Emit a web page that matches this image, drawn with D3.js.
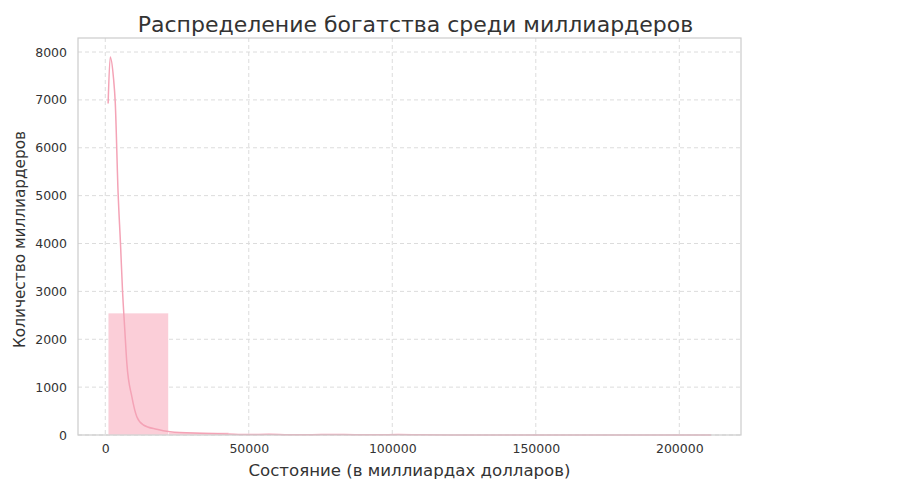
<!DOCTYPE html>
<html>
<head>
<meta charset="utf-8">
<script src="https://cdn.jsdelivr.net/npm/d3@7/dist/d3.min.js"></script>
<style>
  body { margin: 0; background: #fff; }
  svg { display: block; font-family: "DejaVu Sans", sans-serif; }
</style>
</head>
<body>
<svg id="chart" width="900" height="500"></svg>
<script>
// Histogram bins (billions USD), 10 bins from 1000 to 211000
const binEdges = [1000, 22000, 43000, 64000, 85000, 106000, 127000, 148000, 169000, 190000, 211000];
const binCounts = [2547, 56, 21, 6, 3, 3, 0, 0, 1, 1];

// KDE curve (scaled to counts)
const kdeX = [1000, 1730, 2880, 3470, 4470, 5300, 6000, 6800, 7520, 9260, 10990, 13280, 17930, 22540, 32940, 42200, 50000, 57000, 64000, 72000, 79000, 87000, 95000, 102000, 110000, 120000, 135000, 150000, 165000, 180000, 195000, 211000];
const kdeY = [6925, 7898, 7446, 6958, 5060, 4002, 3027, 2200, 1497, 800, 382, 209, 119, 69, 35, 21, 10, 14, 5, 6, 12, 5, 4, 9, 5, 2, 1, 1, 1, 2, 1, 1];

const xTicks = [0, 50000, 100000, 150000, 200000];
const yTicks = [0, 1000, 2000, 3000, 4000, 5000, 6000, 7000, 8000];

const title = "Распределение богатства среди миллиардеров";
const xLabel = "Состояние (в миллиардах долларов)";
const yLabel = "Количество миллиардеров";

const margin = { left: 78, right: 159, top: 38, bottom: 65 };
const W = 900, H = 500;
const svg = d3.select("#chart");
const iw = W - margin.left - margin.right;
const ih = H - margin.top - margin.bottom;

const xMin = d3.min(binEdges), xMax = d3.max(binEdges);
const xPad = (xMax - xMin) * 0.05;
const x = d3.scaleLinear().domain([xMin - xPad, xMax + xPad]).range([margin.left, margin.left + iw]);
const yTop = d3.max(kdeY) * 1.05;
const y = d3.scaleLinear().domain([0, yTop]).range([margin.top + ih, margin.top]);

// Grid
const grid = svg.append("g");
grid.selectAll(".vg").data(xTicks).join("line")
  .attr("x1", d => x(d)).attr("x2", d => x(d))
  .attr("y1", margin.top).attr("y2", margin.top + ih)
  .attr("stroke", "#dcdcdc").attr("stroke-width", 1).attr("stroke-dasharray", "4,3");
grid.selectAll(".hg").data(yTicks).join("line")
  .attr("y1", d => y(d)).attr("y2", d => y(d))
  .attr("x1", margin.left).attr("x2", margin.left + iw)
  .attr("stroke", "#dcdcdc").attr("stroke-width", 1).attr("stroke-dasharray", "4,3");

// Bars
const bins = binCounts.map((c, i) => ({ x0: binEdges[i], x1: binEdges[i + 1], c }));
svg.append("g").selectAll("rect").data(bins).join("rect")
  .attr("x", d => x(d.x0))
  .attr("width", d => x(d.x1) - x(d.x0))
  .attr("y", d => y(d.c))
  .attr("height", d => y(0) - y(d.c))
  .attr("fill", "#fbced8")
  .attr("stroke", "#fff").attr("stroke-width", 0.5);

// KDE line
const pts = kdeX.map((v, i) => [v, kdeY[i]]);
svg.append("path")
  .datum(pts)
  .attr("d", d3.line().x(d => x(d[0])).y(d => y(d[1])).curve(d3.curveMonotoneX))
  .attr("fill", "none").attr("stroke", "#f4a3b6").attr("stroke-width", 1.5);

// Frame
svg.append("rect")
  .attr("x", margin.left).attr("y", margin.top).attr("width", iw).attr("height", ih)
  .attr("fill", "none").attr("stroke", "#cccccc").attr("stroke-width", 1.2);

// Axes
const xAxis = svg.append("g").attr("transform", `translate(0,${margin.top + ih})`)
  .call(d3.axisBottom(x).tickValues(xTicks).tickFormat(d3.format("d")).tickSize(0).tickPadding(9));
const yAxis = svg.append("g").attr("transform", `translate(${margin.left},0)`)
  .call(d3.axisLeft(y).tickValues(yTicks).tickFormat(d3.format("d")).tickSize(0).tickPadding(11));
[xAxis, yAxis].forEach(a => {
  a.select(".domain").remove();
  a.selectAll("text").attr("fill", "#333").style("font-size", "12.5px").style("font-family", "DejaVu Sans, sans-serif");
});

// Labels
svg.append("text").attr("x", margin.left + iw / 2 + 6).attr("y", 32)
  .attr("text-anchor", "middle").attr("fill", "#333").style("font-size", "22px").text(title);
svg.append("text").attr("x", margin.left + iw / 2).attr("y", 476)
  .attr("text-anchor", "middle").attr("fill", "#333").style("font-size", "16.6px").text(xLabel);
svg.append("text").attr("transform", `translate(25,${margin.top + ih / 2 + 3}) rotate(-90)`)
  .attr("text-anchor", "middle").attr("fill", "#333").style("font-size", "15.3px").text(yLabel);
</script>
</body>
</html>
